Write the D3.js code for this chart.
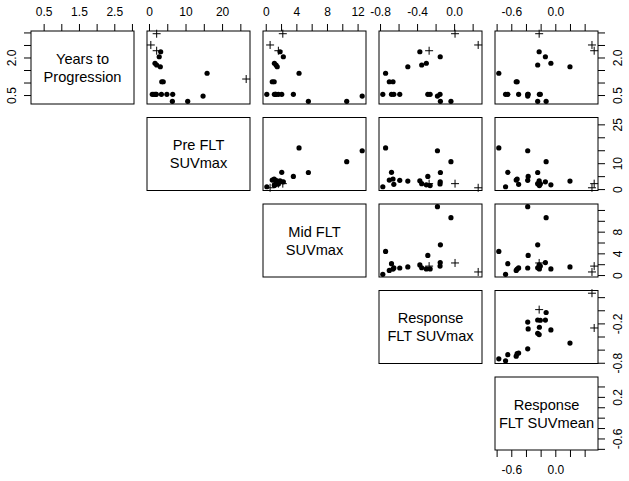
<!DOCTYPE html>
<html><head><meta charset="utf-8">
<script src="https://cdn.jsdelivr.net/npm/d3@7"></script>
<style>body{margin:0;background:#fff}svg{display:block}</style>
</head><body>
<svg id="c" width="629" height="481"></svg>
<script>
// ---- data (one entry per patient) ----
const varLabels = [["Years to","Progression"],["Pre FLT","SUVmax"],["Mid FLT","SUVmax"],["Response","FLT SUVmax"],["Response","FLT SUVmean"]];
const yearsToProgression = [2.95, 2.50, 2.27, 2.23, 2.03, 1.77, 1.70, 1.63, 1.37, 1.14, 1.03, 1.03, 0.46, 0.53, 0.53, 0.53, 0.53, 0.53, 0.53, 0.53, 0.25, 0.25];
const preFLTSUVmax     = [2.1, 0.5, 2.1, 3.2, 2.8, 1.65, 2.1, 3.1, 15.9, 26.6, 3.5, 3.9, 14.8, 0.9, 6.49, 1.84, 3.4, 4.9, 1.37, 2.0, 6.4, 10.6];
const midFLTSUVmax     = [2.23, 0.57, 1.65, 1.87, 2.3, 1.13, 1.35, 1.5, 4.35, null, 0.85, 1.1, 12.6, 0.14, 2.09, 1.31, 1.3, 3.61, 1.13, 1.65, 5.57, 10.58];
const responseSUVmax   = [0.01, 0.26, -0.27, -0.37, -0.15, -0.30, -0.35, -0.50, -0.74, null, -0.70, -0.66, -0.18, -0.77, -0.676, -0.651, -0.587, -0.284, -0.259, -0.152, -0.148, -0.034];
const responseSUVmean  = [-0.22, 0.50, 0.53, -0.22, -0.135, -0.06, -0.24, 0.20, -0.77, null, -0.533, -0.52, -0.376, -0.678, -0.647, -0.50, -0.376, -0.37, -0.217, -0.204, -0.24, -0.125];
const censored         = [1,1,1,0,0,0,0,0,0,1,0,0,0,0,0,0,0,0,0,0,0,0];
// ---- axis ticks ----
const tickValues   = [[0.5,1,1.5,2,2.5,3],[0,5,10,15,20,25],[0,2,4,6,8,10,12],[-0.8,-0.6,-0.4,-0.2,0,0.2],[-0.8,-0.6,-0.4,-0.2,0,0.2,0.4]];
const topLabels    = [[0.5,1.5,2.5],[0,10,20],[0,4,8,12],[-0.8,-0.4,0],[-0.6,0]];
const sideLabels   = [[0.5,2],[0,10,25],[0,4,8],[-0.8,-0.2],[-0.6,0.2]];
const decimals     = [1,0,0,1,1];

const vars = [yearsToProgression, preFLTSUVmax, midFLTSUVmax, responseSUVmax, responseSUVmean];
const n = vars.length;
const L = 31, T = 31, W = 103, H = 73, stepX = 116, stepY = 86.5;
const svg = d3.select("#c");
const font = "Liberation Sans, Arial, Helvetica, sans-serif";

const domains = vars.map(v => {
  const e = d3.extent(v.filter(x => x !== null));
  const d = e[1]-e[0];
  return [e[0]-0.04*d, e[1]+0.04*d];
});
const xs = vars.map((v,j) => d3.scaleLinear().domain(domains[j]).range([L+j*stepX, L+j*stepX+W]));
const ys = vars.map((v,i) => d3.scaleLinear().domain(domains[i]).range([T+i*stepY+H, T+i*stepY]));
const fmt = (j) => (v) => v.toFixed(decimals[j]);
const inDom = (j) => (v) => v >= domains[j][0] && v <= domains[j][1];

for (let i = 0; i < n; i++) {
  for (let j = i; j < n; j++) {
    const g = svg.append("g");
    const x0 = L + j*stepX, y0 = T + i*stepY;
    if (i === j) {
      const cx = x0 + W/2, cy = y0 + H/2;
      varLabels[i].forEach((t,k) => {
        g.append("text").attr("x", cx).attr("y", cy + (k === 0 ? -8.9 : 8.9) + 5.2)
          .attr("text-anchor","middle").attr("font-family",font).attr("font-size",14.6).text(t);
      });
    } else {
      const pts = d3.range(vars[0].length).filter(k => vars[i][k] !== null && vars[j][k] !== null);
      pts.forEach(k => {
        const px = xs[j](vars[j][k]), py = ys[i](vars[i][k]);
        if (censored[k]) {
          g.append("path").attr("d", `M${px-4},${py}H${px+4}M${px},${py-4}V${py+4}`)
            .attr("stroke","#000").attr("stroke-width",1).attr("fill","none");
        } else {
          g.append("circle").attr("cx",px).attr("cy",py).attr("r",2.6).attr("fill","#000");
        }
      });
    }
    g.append("rect").attr("x",x0).attr("y",y0).attr("width",W).attr("height",H)
      .attr("fill","none").attr("stroke","#000").attr("stroke-width",1);
  }
}

function styleAxis(sel){
  sel.select(".domain").remove();
  sel.selectAll("line").attr("stroke","#000");
  sel.selectAll("text").attr("font-family",font).attr("font-size",12).attr("fill","#000");
}
// top axes
for (let j = 0; j < n; j++) {
  const tv = tickValues[j].filter(inDom(j));
  const ax = d3.axisTop(xs[j]).tickValues(tv).tickSize(7).tickPadding(8.5)
    .tickFormat(v => topLabels[j].some(l => Math.abs(l-v) < 1e-9) ? fmt(j)(v) : "");
  const g = svg.append("g").attr("transform",`translate(0,${T})`).call(ax);
  styleAxis(g);
}
// bottom axis of last column
{
  const j = n-1;
  const tv = tickValues[j].filter(inDom(j));
  const ax = d3.axisBottom(xs[j]).tickValues(tv).tickSize(7).tickPadding(8)
    .tickFormat(v => topLabels[j].some(l => Math.abs(l-v) < 1e-9) ? fmt(j)(v) : "");
  const g = svg.append("g").attr("transform",`translate(0,${T+(n-1)*stepY+H})`).call(ax);
  styleAxis(g);
}
// left axis of first row
function sideAxis(i, left) {
  const tv = tickValues[i].filter(inDom(i));
  const axis = left ? d3.axisLeft(ys[i]) : d3.axisRight(ys[i]);
  const ax = axis.tickValues(tv).tickSize(7)
    .tickFormat(v => sideLabels[i].some(l => Math.abs(l-v) < 1e-9) ? fmt(i)(v) : "");
  const xpos = left ? L : L + (n-1)*stepX + W;
  const g = svg.append("g").attr("transform",`translate(${xpos},0)`).call(ax);
  styleAxis(g);
  g.selectAll(".tick text")
    .attr("x", null).attr("dy", null)
    .attr("text-anchor","middle")
    .attr("transform", left ? "translate(-15.5,0) rotate(-90)" : "translate(23.5,0) rotate(-90)")
    .attr("y", 0);
}
sideAxis(0, true);
for (let i = 0; i < n; i++) sideAxis(i, false);
</script>
</body></html>
